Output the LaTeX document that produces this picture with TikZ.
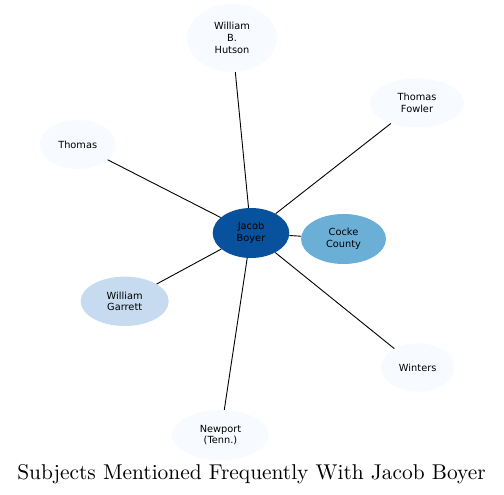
\documentclass[tikz,border=0pt]{standalone}
\usepackage{fontspec}
\usetikzlibrary{shapes.geometric}
\newfontfamily\nodefont{DejaVu Sans}
\newfontfamily\titlefont{lmroman10-regular.otf}
\definecolor{bA}{HTML}{F7FBFF}
\definecolor{bB}{HTML}{C6DBEF}
\definecolor{bC}{HTML}{6BAED6}
\definecolor{bD}{HTML}{08519C}
\tikzset{
  ent/.style={ellipse, inner sep=0pt, draw=none, align=center,
    font=\nodefont\fontsize{9.8}{11.8}\selectfont, text=black},
  link/.style={draw=black, line width=0.9pt}
}
\begin{document}
\begin{tikzpicture}[x=1pt,y=1pt]
\useasboundingbox (0,0) rectangle (504,495);
\node[ent, fill=bD, minimum width=76.6pt, minimum height=50pt] (jb) at (251,262) {Jacob\\Boyer};
\node[ent, fill=bC, minimum width=85pt, minimum height=50pt] (cc) at (343.5,256) {Cocke\\County};
\node[ent, fill=bB, minimum width=88pt, minimum height=49.4pt] (wg) at (124.7,193.7) {William\\Garrett};
\node[ent, fill=bA, minimum width=90pt, minimum height=68pt] (wh) at (232,457) {William\\B.\\Hutson};
\node[ent, fill=bA, minimum width=94pt, minimum height=49pt] (tf) at (417,392) {Thomas\\Fowler};
\node[ent, fill=bA, minimum width=76pt, minimum height=49pt] (th) at (77.7,350.5) {Thomas};
\node[ent, fill=bA, minimum width=73.4pt, minimum height=48.4pt] (wi) at (417.7,127.5) {Winters};
\node[ent, fill=bA, minimum width=97pt, minimum height=50pt] (np) at (220.5,60) {Newport\\(Tenn.)};
\draw[link] (jb) -- (cc);
\draw[link] (jb) -- (wg);
\draw[link] (jb) -- (wh);
\draw[link] (jb) -- (tf);
\draw[link] (jb) -- (th);
\draw[link] (jb) -- (wi);
\draw[link] (jb) -- (np);
\node[anchor=base, inner sep=0pt, font=\titlefont\fontsize{21.4}{24}\selectfont] (title) at (251.5,15.7) {Subjects Mentioned Frequently With Jacob Boyer};
\end{tikzpicture}
\end{document}
